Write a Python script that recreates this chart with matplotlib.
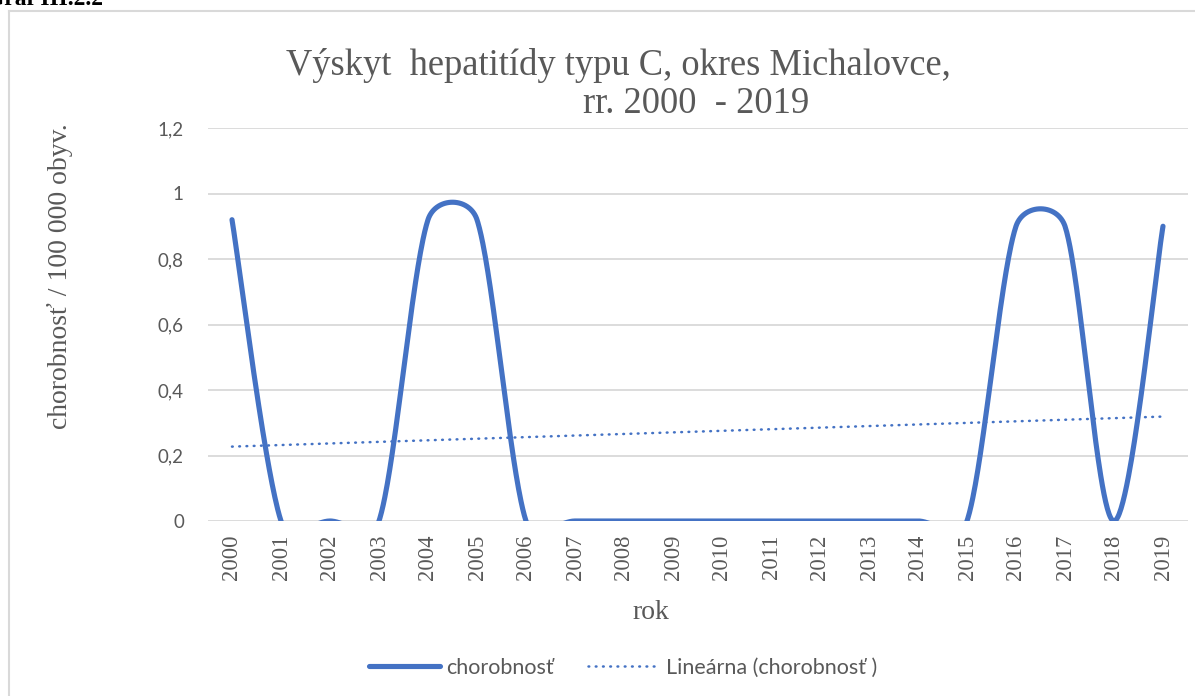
import matplotlib
matplotlib.use('Agg')
import matplotlib.pyplot as plt
from matplotlib.lines import Line2D
import numpy as np

# data
years = [str(y) for y in range(2000, 2020)]
chorobnost = [0.92, 0, 0, 0, 0.92, 0.92, 0, 0, 0, 0, 0, 0, 0, 0, 0, 0, 0.90, 0.90, 0, 0.90]
y_ticks = [0, 0.2, 0.4, 0.6, 0.8, 1.0, 1.2]
y_tick_labels = ['0', '0,2', '0,4', '0,6', '0,8', '1', '1,2']

BLUE = '#4472C4'
GRAY = '#595959'
GRID = '#D9D9D9'
SERIF = 'Liberation Serif'
SANS = 'Lato'
DOTS = (0, (0.3, 2.6))

W, H = 1195, 696
fig = plt.figure(figsize=(W / 100, H / 100), dpi=100)

# plot area in pixels: x 207.5..1187.5, y 128..521
ax = fig.add_axes([207.5 / W, 1 - 521 / H, 980 / W, 393 / H])
ax.set_xlim(-0.5, len(years) - 0.5)
ax.set_ylim(0, 1.2)


def excel_smooth(pts, n=60):
    # bezier smoothing in screen space, similar to Excel's "smoothed line"
    out = []
    for i in range(len(pts) - 1):
        p0 = pts[i - 1] if i > 0 else pts[i]
        p1, p2 = pts[i], pts[i + 1]
        p3 = pts[i + 2] if i + 2 < len(pts) else pts[i + 1]
        d12 = np.hypot(*(p2 - p1))
        t1 = p2 - p0
        t2 = p3 - p1
        n1, n2 = np.hypot(*t1), np.hypot(*t2)
        f1 = min(1 / 6, d12 / (2 * n1)) if n1 > 0 else 0
        f2 = min(1 / 6, d12 / (2 * n2)) if n2 > 0 else 0
        c1 = p1 + t1 * f1
        c2 = p2 - t2 * f2
        t = np.linspace(0, 1, n)[:, None]
        seg = ((1 - t) ** 3) * p1 + 3 * ((1 - t) ** 2) * t * c1 + 3 * (1 - t) * t ** 2 * c2 + t ** 3 * p2
        out.append(seg if i == 0 else seg[1:])
    return np.vstack(out)


x = np.arange(len(years))
pix = ax.transData.transform(np.column_stack([x, chorobnost]))
curve = ax.transData.inverted().transform(excel_smooth(pix))
ax.plot(curve[:, 0], curve[:, 1], color=BLUE, lw=3.7, solid_capstyle='round', zorder=3)

# linear trend
k, q = np.polyfit(x, chorobnost, 1)
ax.plot(x, k * x + q, color=BLUE, lw=1.8, linestyle=DOTS, dash_capstyle='round', zorder=2)

ax.set_yticks(y_ticks)
ax.set_yticklabels(y_tick_labels, family=SANS, fontsize=13.5, color=GRAY)
ax.set_xticks(x)
ax.set_xticklabels(years, rotation=90, family=SERIF, fontsize=16.3, color=GRAY)
ax.tick_params(axis='y', length=0, pad=17)
ax.tick_params(axis='x', length=0, pad=10)
ax.grid(axis='y', color=GRID, lw=1.3)
ax.set_axisbelow(True)
for s in ax.spines.values():
    s.set_visible(False)

fig.text(651 / W, 1 - 619 / H, 'rok', ha='center', va='baseline', family=SERIF, fontsize=20, color=GRAY)
fig.text(60 / W, 1 - 276 / H, 'chorobnosť / 100 000 obyv.', rotation=90, ha='center', va='center',
         family=SERIF, fontsize=20, color=GRAY)

fig.text(618 / W, 1 - 75 / H, 'Výskyt  hepatitídy typu C, okres Michalovce,', ha='center', va='baseline',
         family=SERIF, fontsize=26.3, color=GRAY)
fig.text(583 / W, 1 - 113 / H, 'rr. 2000  - 2019', ha='left', va='baseline',
         family=SERIF, fontsize=26.3, color=GRAY)

handles = [Line2D([], [], color=BLUE, lw=3.7, solid_capstyle='round'),
           Line2D([], [], color=BLUE, lw=1.8, linestyle=DOTS, dash_capstyle='round')]
leg = fig.legend(handles, ['chorobnosť', 'Lineárna (chorobnosť )'], loc='center', ncol=2,
                 bbox_to_anchor=(623 / W, 1 - 668 / H), frameon=False, handlelength=3.3,
                 handletextpad=0.3, columnspacing=1.6, prop={'family': SANS, 'size': 15.5})
for t in leg.get_texts():
    t.set_color(GRAY)

# chart frame (only top and left edges fall inside the picture)
fig.add_artist(Line2D([9 / W, 1], [1 - 11 / H, 1 - 11 / H], color=GRID, lw=1.5, transform=fig.transFigure))
fig.add_artist(Line2D([9 / W, 9 / W], [1 - 11 / H, 0], color=GRID, lw=1.5, transform=fig.transFigure))

fig.text(-14 / W, 1 - 5 / H, 'Graf III.2.2', family=SERIF, fontweight='bold', fontsize=17, va='baseline')

fig.savefig('out.png', dpi=100)
